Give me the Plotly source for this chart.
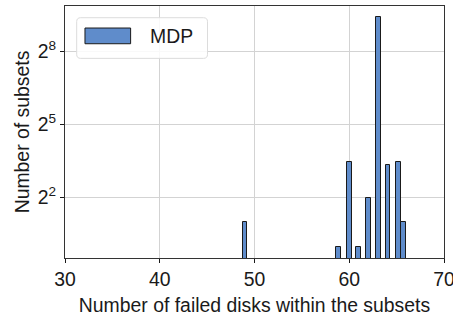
import math
import plotly.graph_objects as go

# Data
failed_disks = [49, 58.9, 60, 61, 62, 63.1, 64.1, 65.2, 65.7]
num_subsets = [2, 1, 11, 1, 4, 680, 10, 11, 2]
series_name = "MDP"
y_tick_vals = [4, 32, 256]
y_tick_text = ["2<sup>2</sup>", "2<sup>5</sup>", "2<sup>8</sup>"]
x_tick_vals = [30, 40, 50, 60, 70]

W, H = 453, 316
L, R, T, B = 65, 8.5, 6, 58.3
pw, ph = W - L - R, H - T - B

def px(x):
    return (x - L) / pw

def py(y):
    return 1 - (y - T) / ph

FONT = "Liberation Sans, Arial, sans-serif"
FS = 19.4
BAR_COLOR = "#5f8ccb"

fig = go.Figure()
fig.add_trace(go.Bar(
    x=failed_disks, y=num_subsets, width=0.5, name=series_name,
    marker=dict(color=BAR_COLOR, line=dict(color="#1a1a1a", width=1)),
    showlegend=False,
))

# manual legend (wide swatch as in the reference)
x0, x1, y0, y1, r = px(76.7), px(207.7), py(58.3), py(17.7), 4
rx, ry = r / pw, r / ph
path = (f"M {x0+rx},{y0} L {x1-rx},{y0} Q {x1},{y0} {x1},{y0+ry} "
        f"L {x1},{y1-ry} Q {x1},{y1} {x1-rx},{y1} L {x0+rx},{y1} "
        f"Q {x0},{y1} {x0},{y1-ry} L {x0},{y0+ry} Q {x0},{y0} {x0+rx},{y0} Z")
fig.add_shape(type="path", path=path, xref="paper", yref="paper",
              line=dict(color="#dcdcdc", width=1), fillcolor="rgba(255,255,255,0.85)")
fig.add_shape(type="rect", xref="paper", yref="paper",
              x0=px(85), x1=px(130.7), y0=py(43.7), y1=py(28),
              line=dict(color="#1a1a1a", width=1), fillcolor=BAR_COLOR)
fig.add_annotation(x=px(148), y=py(36), xref="paper", yref="paper",
                   text=series_name, showarrow=False, xanchor="left", yanchor="middle",
                   font=dict(family=FONT, size=FS, color="#1a1a1a"))

lo = -0.47 * math.log10(2)
hi = 9.85 * math.log10(2)

fig.update_layout(
    width=W, height=H,
    margin=dict(l=L, r=R, t=T, b=B, autoexpand=False),
    paper_bgcolor="white", plot_bgcolor="white",
    font=dict(family=FONT, size=FS, color="#1a1a1a"),
    bargap=0,
)
fig.update_xaxes(
    range=[30, 70], tickvals=x_tick_vals, ticks="outside", ticklen=4,
    tickcolor="#1a1a1a", showline=True, linecolor="#333333", linewidth=1.2, mirror=True,
    showgrid=True, gridcolor="#d3d3d3", gridwidth=1, zeroline=False,
    tickfont=dict(size=FS), automargin=False, ticklabeloverflow="allow",
    title=dict(text="Number of failed disks within the subsets", font=dict(size=FS), standoff=9),
)
fig.update_yaxes(
    type="log", range=[lo, hi], tickvals=y_tick_vals, ticktext=y_tick_text,
    ticks="outside", ticklen=4, tickcolor="#1a1a1a",
    showline=True, linecolor="#333333", linewidth=1.2, mirror=True,
    showgrid=True, gridcolor="#d3d3d3", gridwidth=1, zeroline=False,
    tickfont=dict(size=FS), automargin=False,
    title=dict(text="Number of subsets", font=dict(size=FS), standoff=2),
)

fig.write_html("out.html", config={"displayModeBar": False},
               post_script="document.body.style.margin='0';")
